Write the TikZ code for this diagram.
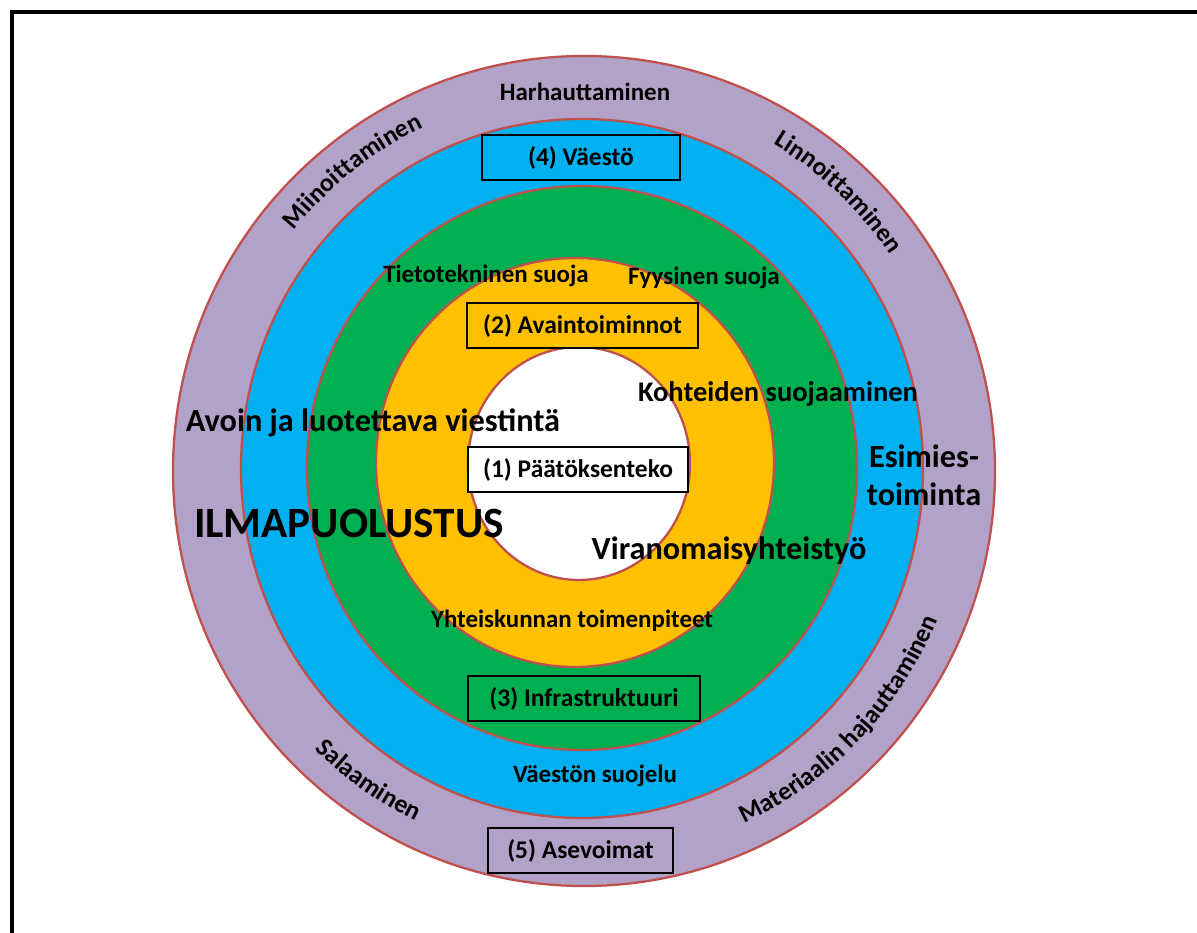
\documentclass[tikz,border=0pt]{standalone}
\usepackage{fontspec}
\setmainfont{Carlito}
\usetikzlibrary{decorations.text}
\definecolor{violetti}{HTML}{B3A2C7}
\definecolor{sininen}{HTML}{00B0F0}
\definecolor{vihrea}{HTML}{00B050}
\definecolor{keltainen}{HTML}{FFC000}
\definecolor{reuna}{HTML}{C0504D}

\begin{document}
\begin{tikzpicture}[x=0.02cm,y=0.02cm,
    rengas/.style={draw=reuna,line width=1.3pt},
    laatikko/.style={draw=black,line width=1.4pt,minimum height=0.9cm,inner sep=0pt,
      font=\bfseries\fontsize{14.5}{17}\selectfont},
    pieni/.style={anchor=base,inner sep=0pt,font=\bfseries\fontsize{14.2}{17}\selectfont},
    iso/.style={anchor=base,inner sep=0pt,font=\bfseries\fontsize{18.4}{21.5}\selectfont},
    kaari/.style={decorate,decoration={text along path,text align=center,
      text={|\bfseries\fontsize{14.6}{17}\selectfont|#1}}}]
  \useasboundingbox (0,0) rectangle (1197,933);
  % Kehys
  \draw[line width=2.8pt] (12,0) -- (12,921) -- (1197,921);
  % Renkaat
  \filldraw[rengas,fill=violetti] (584,462) ellipse [x radius=411,y radius=415]; % (5)
  \filldraw[rengas,fill=sininen] (582,464.5) ellipse [x radius=341,y radius=349.5]; % (4)
  \filldraw[rengas,fill=vihrea] (582,465) ellipse [x radius=275,y radius=282]; % (3)
  \filldraw[rengas,fill=keltainen] (575,470.5) ellipse [x radius=199,y radius=204.5]; % (2)
  \filldraw[rengas,fill=white] (579,469.5) ellipse [x radius=111,y radius=116.5]; % (1)
  % Uloin rengas: kaarevat tekstit
  \path[kaari=Miinoittaminen] (583,463) ++(154:373 and 379)
      arc[start angle=154,end angle=102,x radius=373,y radius=379];
  \path[kaari=Linnoittaminen] (583,463) ++(73:373 and 379)
      arc[start angle=73,end angle=21,x radius=373,y radius=379];
  \path[kaari=Salaaminen] (583,463) ++(-150:384 and 390)
      arc[start angle=-150,end angle=-100,x radius=384,y radius=390];
  \path[kaari=Materiaalin hajauttaminen] (583,463) ++(-86:384 and 390)
      arc[start angle=-86,end angle=-2,x radius=384,y radius=390];
  \node[pieni] (harhautus) at (585,832) {Harhauttaminen};
  \node[laatikko,fill=violetti,minimum width=3.7cm] (asevoimat) at (580.5,82.5) {(5) Asevoimat};
  % Sininen rengas
  \node[laatikko,fill=sininen,minimum width=3.96cm] (vaesto) at (581,775.5) {(4) Väestö};
  \node[pieni] (suojelu) at (595,150) {Väestön suojelu};
  \node[iso,anchor=center,align=center] (esimies) at (924,458) {Esimies-\\toiminta};
  % Vihreä rengas
  \node[pieni] (tieto) at (486,650) {Tietotekninen suoja};
  \node[pieni] (fyysinen) at (704,648) {Fyysinen suoja};
  \node[laatikko,fill=vihrea,minimum width=4.64cm] (infra) at (584,234.5) {(3) Infrastruktuuri};
  % Keltainen rengas
  \node[laatikko,fill=keltainen,minimum width=4.62cm] (avain) at (582.5,607.5) {(2) Avaintoiminnot};
  \node[pieni,font=\bfseries\fontsize{16.2}{19}\selectfont] (kohteet) at (778,531) {Kohteiden suojaaminen};
  \node[pieni] (yhteiskunta) at (572,305) {Yhteiskunnan toimenpiteet};
  % Keskusta
  \node[laatikko,fill=white,minimum width=4.4cm] (paatos) at (578,463.5) {(1) Päätöksenteko};
  % Poikki renkaiden
  \node[iso] (viestinta) at (373,501) {Avoin ja luotettava viestintä};
  \node[iso] (viranomainen) at (729,373) {Viranomaisyhteistyö};
  \node[iso,font=\bfseries\fontsize{24.6}{28}\selectfont] (ilma) at (349,395) {ILMAPUOLUSTUS};
\end{tikzpicture}
\end{document}
